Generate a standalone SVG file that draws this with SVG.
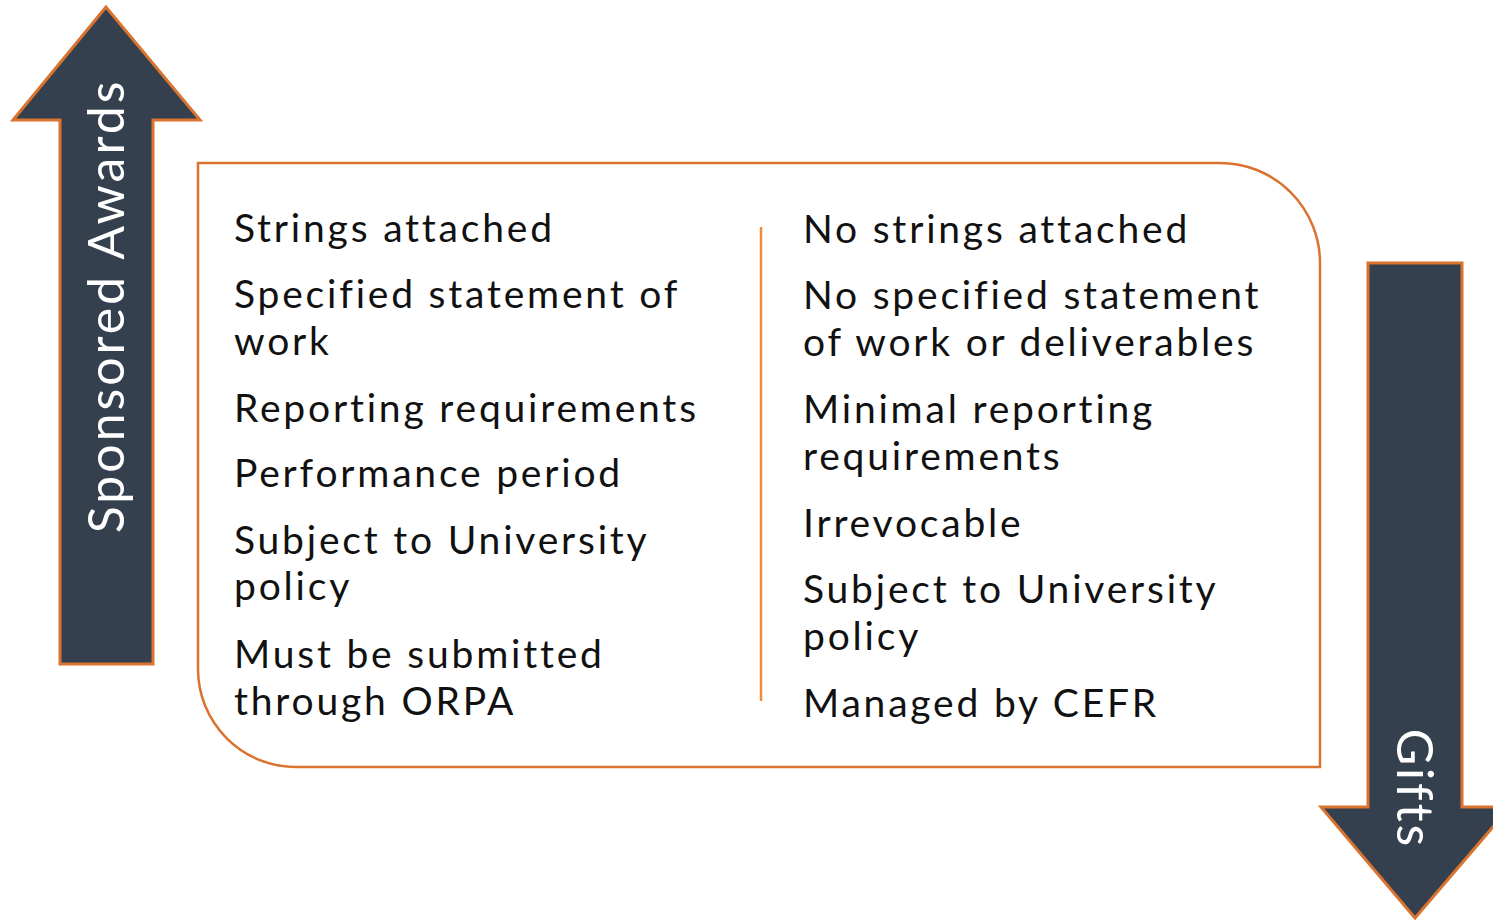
<svg xmlns="http://www.w3.org/2000/svg" width="1493" height="920" viewBox="0 0 1493 920">
<style>
.arrow{fill:#34404E;stroke:#D9732F;stroke-width:3;stroke-linejoin:miter}
.lbl{font-family:Lato,"Open Sans",sans-serif;fill:#ffffff;font-size:50px;letter-spacing:3px}
.t{font-family:Lato,"Open Sans",sans-serif;fill:#111111;font-size:39px;letter-spacing:2.8px}
.frame{fill:#ffffff;stroke:#D9732F;stroke-width:2.5}
</style>
<rect width="1493" height="920" fill="#ffffff"/>
<g id="sponsored-awards">
<path class="arrow" d="M106 7 L13 120 L60 120 L60 664 L153 664 L153 120 L200 120 Z"/>
<text class="lbl" transform="translate(124 306) rotate(-90)" text-anchor="middle">Sponsored Awards</text>
</g>
<g id="gifts">
<path class="arrow" d="M1368 263 L1462 263 L1462 807 L1510 807 L1415 918 L1321 807 L1368 807 Z"/>
<text class="lbl" transform="translate(1397 789) rotate(90)" text-anchor="middle">Gifts</text>
</g>
<g id="comparison-box">
<path class="frame" d="M198 163 L1220 163 A100 100 0 0 1 1320 263 L1320 767 L296 767 A98 98 0 0 1 198 669 Z"/>
<line x1="761" y1="227" x2="761" y2="701" stroke="#F08A3E" stroke-width="2.5"/>
</g>
<g id="sponsored-list">
<text class="t" x="234" y="242">Strings attached</text>
<text class="t" x="234" y="308">Specified statement of</text>
<text class="t" x="234" y="355">work</text>
<text class="t" x="234" y="422">Reporting requirements</text>
<text class="t" x="234" y="487">Performance period</text>
<text class="t" x="234" y="554">Subject to University</text>
<text class="t" x="234" y="600">policy</text>
<text class="t" x="234" y="668">Must be submitted</text>
<text class="t" x="234" y="715">through ORPA</text>
</g>
<g id="gifts-list">
<text class="t" x="803" y="243">No strings attached</text>
<text class="t" x="803" y="309">No specified statement</text>
<text class="t" x="803" y="356">of work or deliverables</text>
<text class="t" x="803" y="423">Minimal reporting</text>
<text class="t" x="803" y="470">requirements</text>
<text class="t" x="803" y="537">Irrevocable</text>
<text class="t" x="803" y="603">Subject to University</text>
<text class="t" x="803" y="650">policy</text>
<text class="t" x="803" y="717">Managed by CEFR</text>
</g>
</svg>
